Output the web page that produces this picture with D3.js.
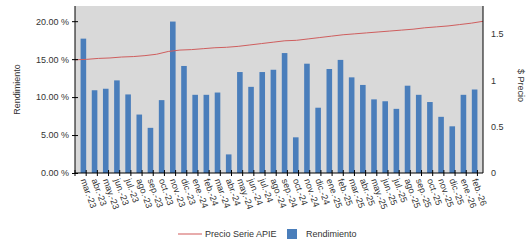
<!DOCTYPE html>
<html>
<head>
<meta charset="utf-8">
<script src="https://cdn.jsdelivr.net/npm/d3@7"></script>
<style>
  body { margin: 0; background: #fff; }
  svg { display: block; font-family: "Liberation Sans", sans-serif; }
</style>
</head>
<body>
<main></main>
<script>
const months = ["mar.-23","abr.-23","may.-23","jun.-23","jul.-23","ago.-23","sep.-23","oct.-23","nov.-23","dic.-23",
  "ene.-24","feb.-24","mar.-24","abr.-24","may.-24","jun.-24","jul.-24","ago.-24","sep.-24","oct.-24","nov.-24","dic.-24",
  "ene.-25","feb.-25","mar.-25","abr.-25","may.-25","jun.-25","jul.-25","ago.-25","sep.-25","oct.-25","nov.-25","dic.-25",
  "ene.-26","feb.-26"];

// Rendimiento (%)
const rendimiento = [17.7,10.9,11.1,12.2,10.35,7.7,5.95,9.6,19.95,14.1,
  10.3,10.3,10.6,2.45,13.3,11.35,13.3,13.6,15.8,4.7,14.4,8.6,
  13.7,14.9,12.6,11.6,9.7,9.45,8.45,11.5,10.3,9.35,7.4,6.15,
  10.3,11.0];

// Precio Serie APIE ($)
const precio = [1.22,1.225,1.235,1.24,1.25,1.255,1.265,1.28,1.31,1.325,
  1.33,1.34,1.35,1.355,1.365,1.38,1.395,1.41,1.425,1.43,1.445,1.46,
  1.475,1.49,1.50,1.51,1.52,1.53,1.54,1.55,1.565,1.575,1.585,1.60,
  1.615,1.635];

const leftTicks = [0, 5, 10, 15, 20];
const rightTicks = [0, 0.5, 1, 1.5];

const W = 527, H = 244;
const m = { top: 6, right: 44, bottom: 71, left: 75 };
const iw = W - m.left - m.right, ih = H - m.top - m.bottom;
const FS = 9;

const svg = d3.select("main").append("svg").attr("width", W).attr("height", H);
const g = svg.append("g").attr("transform", `translate(${m.left},${m.top})`);

const x = d3.scaleBand().domain(months).range([0, iw]).padding(0.5);
const xLine = d3.scalePoint().domain(months).range([0, iw]);
const yL = d3.scaleLinear().domain([0, 22]).range([ih, 0]);
const yR = d3.scaleLinear().domain([0, 1.8]).range([ih, 0]);

g.append("rect").attr("width", iw).attr("height", ih).attr("fill", "#d9d9d9");

g.selectAll("rect.bar")
  .data(rendimiento)
  .join("rect")
  .attr("class", "bar")
  .attr("x", (d, i) => x(months[i]))
  .attr("width", x.bandwidth())
  .attr("y", d => yL(d))
  .attr("height", d => ih - yL(d))
  .attr("fill", "#4a7ebb");

const line = d3.line()
  .x((d, i) => xLine(months[i]))
  .y(d => yR(d));

g.append("path")
  .datum(precio)
  .attr("fill", "none")
  .attr("stroke", "#cf5e5e")
  .attr("stroke-width", 1)
  .attr("d", line);

// left axis
const ax = g.append("g")
  .call(d3.axisLeft(yL).tickValues(leftTicks).tickSize(3).tickFormat(d => d3.format(".2f")(d) + " %"));
ax.selectAll(".tick line").attr("x1", 3).attr("x2", -3);
ax.select(".domain").attr("d", `M0,${ih}V0`);

// right axis
const axR = g.append("g").attr("transform", `translate(${iw},0)`)
  .call(d3.axisRight(yR).tickValues(rightTicks).tickSize(0).tickPadding(8).tickFormat(d3.format("")));
axR.select(".domain").attr("d", `M0,${ih}V0`);

// bottom axis with ticks at band boundaries
const axB = g.append("g").attr("transform", `translate(0,${ih})`)
  .call(d3.axisBottom(x).tickSize(0).tickPadding(0));
axB.select(".domain").attr("d", `M0,0H${iw}`);
axB.selectAll(".tick text")
  .attr("text-anchor", "start")
  .attr("y", 0)
  .attr("dy", "0.35em")
  .attr("transform", "translate(0,6) rotate(70)");
const step = x.step();
axB.append("g").selectAll("line")
  .data(d3.range(months.length + 1))
  .join("line")
  .attr("x1", i => i * step).attr("x2", i => i * step)
  .attr("y1", -3).attr("y2", 3)
  .attr("stroke", "#000");

[ax, axR, axB].forEach(a => {
  a.selectAll("text").attr("font-size", FS).attr("fill", "#333").attr("font-family", "Liberation Sans, sans-serif");
  a.select(".domain").attr("stroke", "#000");
});

// axis titles
svg.append("text")
  .attr("transform", `translate(20,${m.top + ih / 2}) rotate(-90)`)
  .attr("text-anchor", "middle")
  .attr("font-size", FS).attr("fill", "#333")
  .text("Rendimiento");
svg.append("text")
  .attr("transform", `translate(518,${m.top + ih / 2 - 4}) rotate(90)`)
  .attr("text-anchor", "middle")
  .attr("font-size", FS).attr("fill", "#333")
  .text("$ Precio");

// legend
const lg = svg.append("g").attr("transform", "translate(178,234)");
lg.append("line").attr("x1", 0).attr("x2", 24).attr("stroke", "#e09090").attr("stroke-width", 1.5);
lg.append("text").attr("x", 27).attr("y", 3).attr("font-size", FS).attr("fill", "#333").text("Precio Serie APIE");
lg.append("rect").attr("x", 109).attr("y", -5).attr("width", 10).attr("height", 10).attr("fill", "#4a7ebb");
lg.append("text").attr("x", 128).attr("y", 3).attr("font-size", FS).attr("fill", "#333").text("Rendimiento");
</script>
</body>
</html>
